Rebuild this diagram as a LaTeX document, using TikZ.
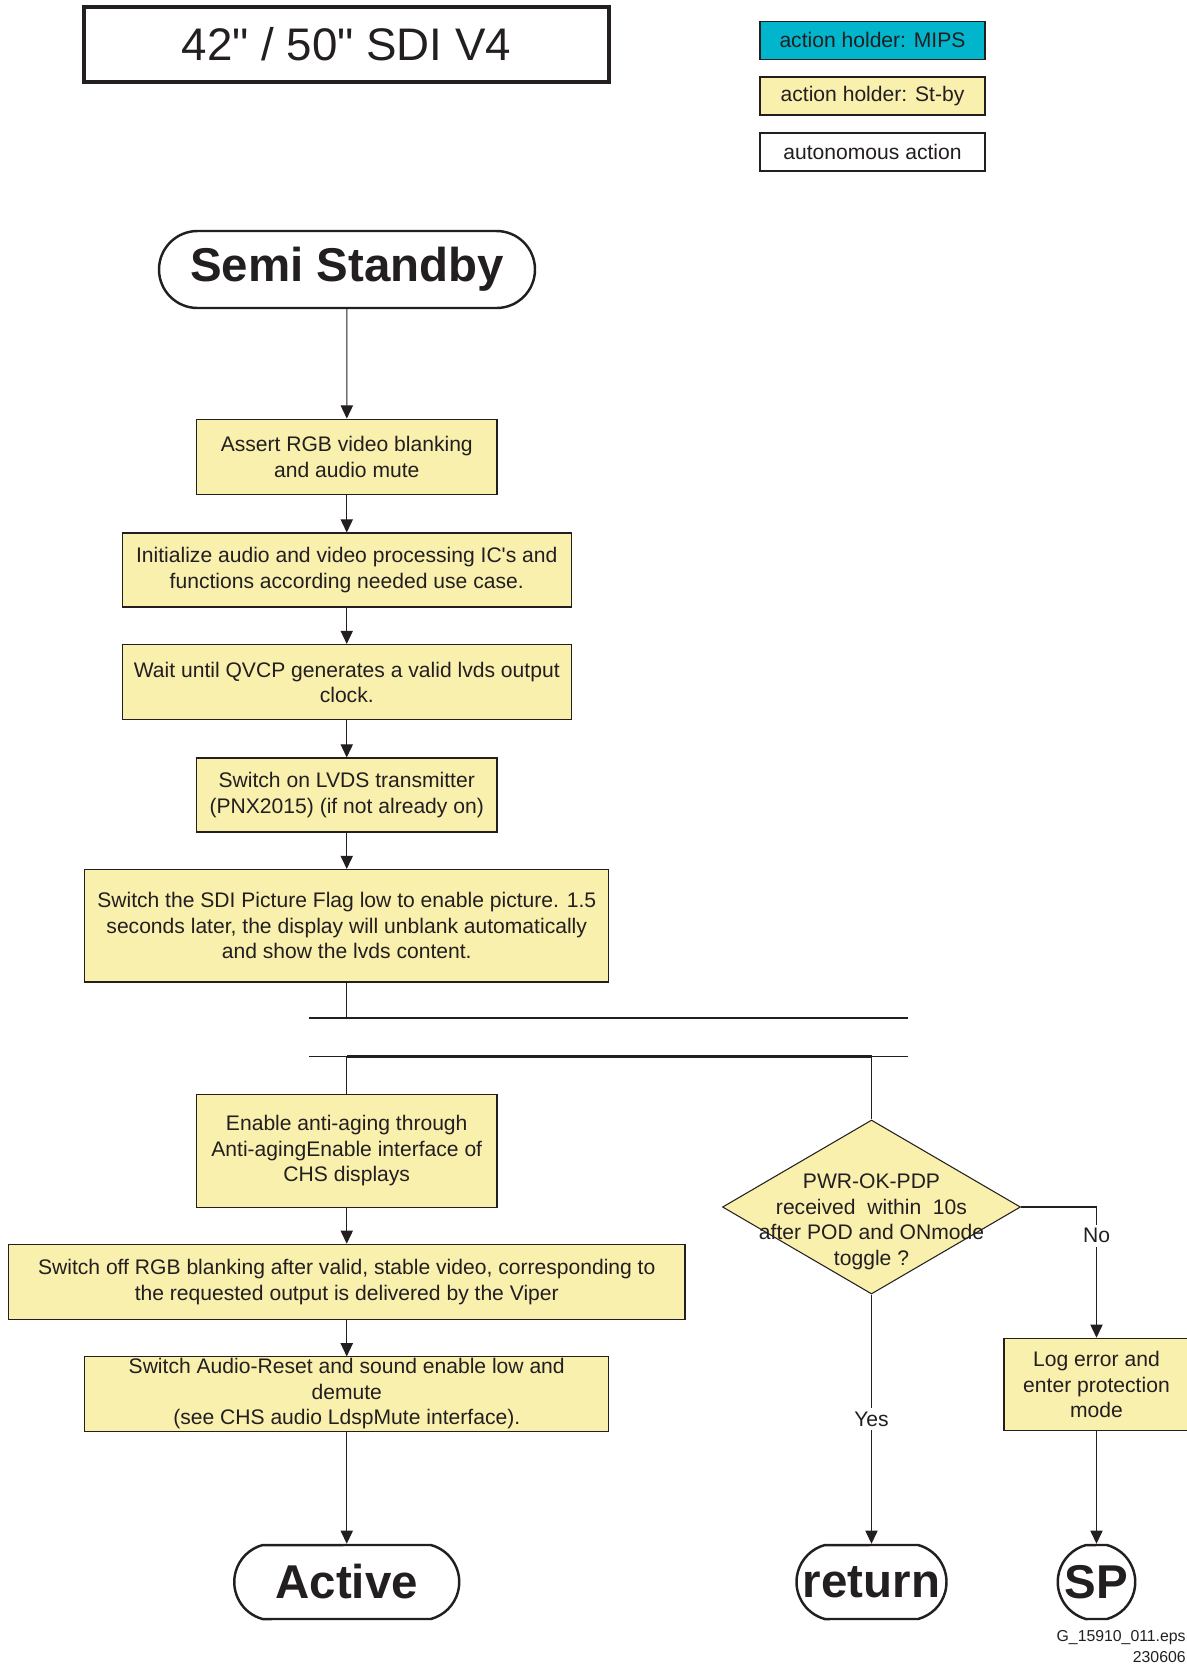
\documentclass[tikz,border=0pt]{standalone}
\usepackage{fontspec}
\newfontfamily\arial{Liberation Sans}
\usetikzlibrary{arrows.meta,positioning,shapes.geometric,shapes.misc}
\definecolor{ink}{HTML}{231F20}
\definecolor{stby}{HTML}{F9F0AE}
\definecolor{mips}{HTML}{00B5CC}

\begin{document}
\begin{tikzpicture}[
    every node/.style={font=\arial\fontsize{12}{14.5}\selectfont,text=ink},
    act/.style={draw=ink,line width=0.6pt,fill=stby,align=center,inner sep=1pt},
    term/.style={draw=ink,line width=1.4pt,fill=white,rounded rectangle,
      rounded rectangle arc length=150,minimum height=1.48cm,inner sep=0pt,
      font=\arial\bfseries\fontsize{27}{30}\selectfont,
      execute at begin node={\hbox to 0pt\bgroup\hss},
      execute at end node={\hss\egroup}},
    key/.style={draw=ink,line width=0.8pt,minimum width=4.5cm,minimum height=0.76cm},
    flow/.style={draw=ink,line width=0.6pt,-{Triangle[length=7.5pt,width=7pt]}},
    link/.style={draw=ink,line width=0.6pt},
    bar/.style={draw=ink,line width=#1},
  ]
  \useasboundingbox (0,0) rectangle (23.74,-33.3);
  % heading and legend of action holders
  \node[draw=ink,line width=1.8pt,minimum width=10.5cm,minimum height=1.5cm,
    font=\arial\fontsize{26}{30}\selectfont] (title) at (6.93,-0.89) {42" / 50" SDI V4};
  \node[key,fill=mips] (kmips) at (17.45,-0.805) {action holder: MIPS};
  \node[key,fill=stby] (kstby) at (17.45,-1.922) {action holder: St-by};
  \node[key,fill=white] (kauto) at (17.45,-3.037) {autonomous action};

  % start-up column
  \node[term,rounded rectangle arc length=180,minimum width=7.52cm,minimum height=1.54cm] (semi) at (6.94,-5.39) {Semi Standby};
  \node[act,minimum width=6.01cm,minimum height=1.51cm] (blank) at (6.935,-9.137) {Assert RGB video blanking\\and audio mute};
  \node[act,minimum width=8.98cm,minimum height=1.48cm] (init) at (6.935,-11.40) {Initialize audio and video processing IC's and\\functions according needed use case.};
  \node[act,minimum width=8.98cm,minimum height=1.51cm] (qvcp) at (6.935,-13.644) {Wait until QVCP generates a valid lvds output\\clock.};
  \node[act,minimum width=6.01cm,minimum height=1.48cm] (lvds) at (6.935,-15.90) {Switch on LVDS transmitter\\(PNX2015) (if not already on)};
  \node[act,minimum width=10.48cm,minimum height=2.25cm] (flag) at (6.935,-18.515) {Switch the SDI Picture Flag low to enable picture. 1.5\\seconds later, the display will unblank automatically\\and show the lvds content.};

  % join and fork bars
  \coordinate (join) at (6.935,-20.36);
  \coordinate (fork) at (6.935,-21.13);
  \coordinate (forkr) at (17.43,-21.13);
  \draw[bar=0.7pt] (6.18,-20.36) -- (18.15,-20.36);
  \draw[bar=1.5pt] (join) -- (12.17,-20.36);
  \draw[bar=0.7pt] (6.18,-21.13) -- (18.15,-21.13);
  \draw[bar=1.5pt] (fork) -- (forkr);

  % left branch
  \node[act,minimum width=6.01cm,minimum height=2.25cm] (aging) at (6.935,-23.02) {Enable anti-aging through\\Anti-agingEnable interface of\\CHS displays};
  \node[act,minimum width=13.53cm,minimum height=1.51cm] (unblank) at (6.935,-25.64) {Switch off RGB blanking after valid, stable video, corresponding to\\the requested output is delivered by the Viper};
  \node[act,minimum width=10.48cm,minimum height=1.48cm] (demute) at (6.935,-27.88) {Switch Audio-Reset and sound enable low and\\demute\\(see CHS audio LdspMute interface).};
  \node[term,minimum width=4.5cm] (active) at (6.935,-31.64) {Active};

  % right branch
  \node[diamond,draw=ink,line width=0.6pt,fill=stby,minimum width=5.96cm,minimum height=3.48cm,inner sep=0pt] (pwr) at (17.43,-24.14)
    {\hbox to 0pt{\hss\raisebox{-0.40cm}[0pt][0pt]{\begin{tabular}{@{}c@{}}PWR-OK-PDP\\received\ \ within\ \ 10s\\after POD and ONmode\\toggle ?\end{tabular}}\hss}};
  \node[act,minimum width=3.7cm,minimum height=1.85cm] (prot) at (21.93,-27.69) {Log error and\\enter protection\\mode};
  \node[term,minimum width=3.0cm] (ret) at (17.43,-31.64) {return};
  \node[term,minimum width=1.55cm] (sp) at (21.93,-31.64) {SP};

  \draw[flow] (semi) -- (blank);
  \foreach \a/\b in {blank/init,init/qvcp,qvcp/lvds,lvds/flag,aging/unblank,unblank/demute,demute/active,prot/sp}
    \draw[flow] (\a) -- (\b);
  \draw[link] (flag) -- (join);
  \draw[link] (fork) -- (aging);
  \draw[link] (forkr) -- (pwr);
  \draw[flow] (pwr) -- node[fill=white,inner sep=2pt] {Yes} (ret);
  \draw[flow] (pwr.east) -| node[pos=0.61,fill=white,inner sep=2pt] {No} (prot);

  \node[anchor=east,inner sep=0pt,font=\arial\fontsize{9}{10}\selectfont] (eps) at (23.72,-32.76) {G\_15910\_011.eps};
  \node[anchor=east,inner sep=0pt,font=\arial\fontsize{9}{10}\selectfont] (date) at (23.72,-33.14) {230606};
\end{tikzpicture}
\end{document}
